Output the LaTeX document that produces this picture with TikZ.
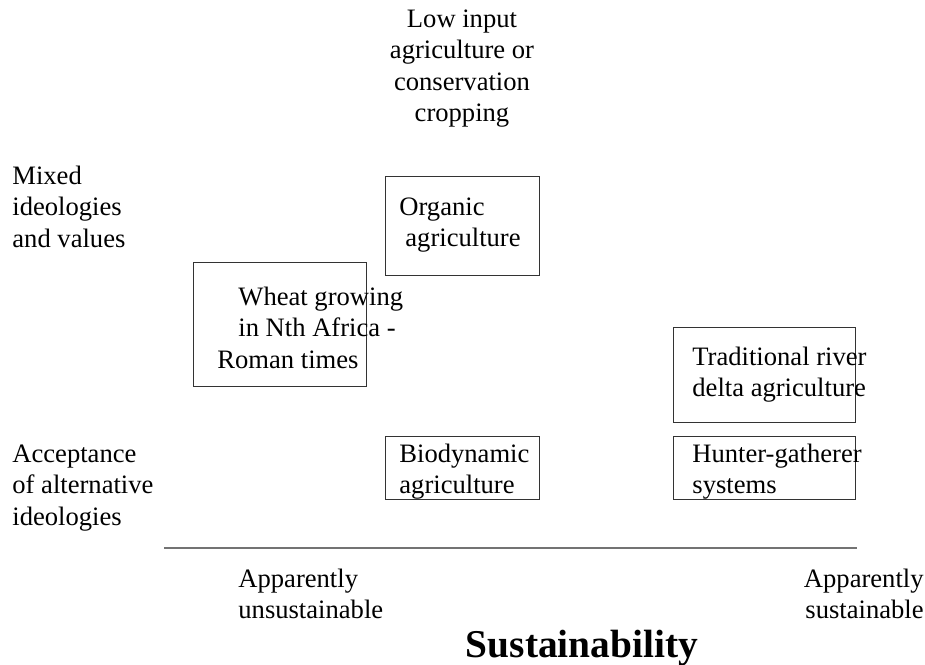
\documentclass[tikz,border=0pt]{standalone}
\usepackage{fontspec}
\setmainfont{Liberation Serif}
\usetikzlibrary{positioning}

\begin{document}
\begin{tikzpicture}[
  x=0.5pt, y=-0.5pt,
  every node/.style={inner sep=0pt, text=black,
    font=\fontsize{13.3}{15.75}\selectfont},
  lbl/.style={align=left, anchor=base west},
  rlbl/.style={align=right, anchor=base east},
  systembox/.style={
    rectangle, draw=black!80, line width=0.5pt,
    inner sep=0pt, fill=none
  },
  axisline/.style={draw=black!55, line width=0.6pt},
  axistitle/.style={anchor=base, font=\fontsize{19.7}{23}\selectfont\bfseries}
]
\useasboundingbox (0,0) rectangle (925,664);

% =============================================================================
% Grid in pixels of the 925 x 664 page (y grows downwards).
% Text nodes sit on the baseline of their last line.
% =============================================================================

% --- Vertical axis labels (left) and top label
\node[align=center, anchor=base] (lowinput) at (462, 121.5) {%
  Low input\\agriculture or\\conservation\\cropping};
\node[lbl] (mixed) at (12, 247) {Mixed\\ideologies\\and values};
\node[lbl] (accept) at (12, 525) {Acceptance\\of alternative\\ideologies};

% --- Boxes
\node[systembox, minimum width=86.5pt, minimum height=62pt] (wheatbox) at (279.5, 324) {};
\node[systembox, minimum width=77pt, minimum height=49.5pt] (organicbox) at (462, 225.5) {};
\node[systembox, minimum width=77pt, minimum height=31.5pt] (biobox) at (462, 467.5) {};
\node[systembox, minimum width=91pt, minimum height=47.5pt] (deltabox) at (764, 374.5) {};
\node[systembox, minimum width=91pt, minimum height=31.5pt] (hunterbox) at (764, 467.5) {};

% --- Box texts (set on their own, they run over the box edges)
\node[lbl] (wheat) at (217, 368) {%
  \hspace*{10.5pt}Wheat growing\\\hspace*{10.5pt}in Nth Africa -\\Roman times};
\node[lbl] (organic) at (399, 246.5) {Organic\\\hspace*{3pt}agriculture};
\node[lbl] (bio) at (399, 493.5) {Biodynamic\\agriculture};
\node[lbl] (delta) at (692, 396.5) {Traditional river\\delta agriculture};
\node[lbl] (hunter) at (692, 493.5) {Hunter-gatherer\\systems};

% =============================================================================
% Horizontal axis
% =============================================================================
\coordinate (axisL) at (164, 548);
\coordinate (axisR) at (857, 548);
\draw[axisline] (axisL) -- (axisR);

\node[lbl] (unsust) at (238, 618.5) {Apparently\\unsustainable};
\node[rlbl] (sust) at (924, 618.5) {Apparently\\sustainable};
\node[axistitle] (title) at (582, 657) {Sustainability};

\end{tikzpicture}
\end{document}
